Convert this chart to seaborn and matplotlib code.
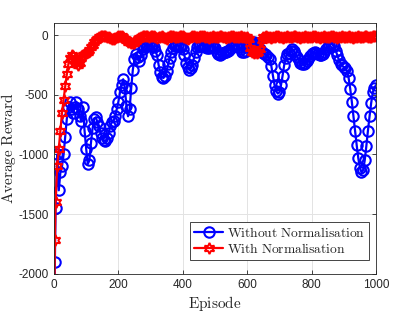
import numpy as np
import pandas as pd
import matplotlib
matplotlib.use('Agg')
import matplotlib.pyplot as plt
import seaborn as sns

episodes = [1, 3] + list(range(5, 1001, 5))

# average reward, without normalisation (blue)
reward_without = [
    -2300, -1900,
    -1450, -1000, -1300, -1150, -1100, -1000, -850, -700, -600, -560,
    -620, -650, -600, -560, -620, -680, -720, -600, -800, -950,
    -1080, -1050, -900, -780, -700, -690, -730, -760, -820, -860,
    -880, -890, -860, -820, -760, -730, -720, -680, -620, -560,
    -480, -420, -370, -440, -590, -680, -620, -440, -290, -200,
    -160, -180, -220, -170, -120, -100, -90, -80, -85, -95,
    -90, -100, -130, -170, -250, -310, -350, -360, -340, -300,
    -240, -190, -140, -110, -90, -80, -85, -90, -100, -120,
    -170, -230, -270, -290, -280, -250, -190, -140, -100, -90,
    -80, -80, -90, -100, -110, -105, -95, -90, -95, -110,
    -140, -160, -165, -160, -150, -145, -140, -135, -125, -110,
    -95, -85, -80, -85, -100, -120, -140, -145, -130, -100,
    -80, -70, -65, -60, -70, -85, -100, -120, -140, -150,
    -160, -170, -180, -200, -260, -340, -420, -470, -490, -480,
    -420, -340, -250, -190, -160, -150, -130, -120, -135, -160,
    -180, -210, -230, -240, -245, -235, -220, -200, -175, -160,
    -150, -145, -150, -160, -170, -165, -155, -140, -120, -100,
    -85, -75, -80, -95, -130, -170, -210, -240, -255, -270,
    -280, -300, -360, -450, -560, -680, -800, -920, -1030, -1110,
    -1150, -1130, -1050, -930, -800, -680, -570, -480, -440, -420,
]

# average reward, with normalisation (red)
reward_with = [
    -2300, -1720,
    -1400, -1100, -950, -800, -650, -540, -430, -330, -240, -190,
    -170, -175, -200, -230, -250, -230, -190, -165, -155, -150,
    -140, -125, -100, -80, -60, -45, -30, -20, -10, -5,
    -5, -10, -15, -20, -25, -30, -30, -25, -15, -10,
    -5, -10, -20, -30, -45, -55, -60, -65, -70, -65,
    -50, -35, -25, -15, -10, -5, -5, -10, -15, -10,
    -5, -10, -20, -25, -20, -15, -10, -15, -25, -30,
    -20, -10, -5, -10, -15, -20, -15, -10, -5, -10,
    -15, -25, -30, -25, -15, -10, -10, -15, -20, -15,
    -10, -5, -10, -15, -20, -25, -20, -15, -10, -15,
    -20, -15, -10, -10, -15, -20, -25, -20, -15, -10,
    -10, -15, -20, -20, -15, -10, -15, -20, -25, -20,
    -30, -110, -140, -150, -145, -150, -140, -120, -40, -20,
    -15, -10, -15, -20, -25, -20, -15, -10, -10, -15,
    -20, -25, -20, -15, -10, -15, -20, -15, -10, -10,
    -15, -20, -25, -20, -15, -10, -15, -20, -20, -15,
    -10, -10, -15, -20, -25, -20, -15, -10, -15, -20,
    -15, -10, -10, -15, -20, -25, -20, -15, -10, -15,
    -20, -15, -10, -15, -20, -25, -20, -15, -10, -15,
    -20, -15, -10, -10, -15, -20, -15, -10, -10, -10,
]

x_ticks = [0, 200, 400, 600, 800, 1000]
y_ticks = [-2000, -1500, -1000, -500, 0]

sns.set_style('ticks')
plt.rcParams['font.family'] = ['Liberation Sans', 'DejaVu Sans']
plt.rcParams['mathtext.fontset'] = 'cm'

df = pd.DataFrame({'episode': episodes,
                   'without': reward_without,
                   'with': reward_with})

fig = plt.figure(figsize=(4.15, 3.12), dpi=100)
ax = fig.add_axes([0.130, 0.122, 0.776, 0.804])

axis_col = '#262626'

sns.lineplot(data=df, x='episode', y='without', ax=ax, sort=False,
             estimator=None, color='#0000ff', lw=1.6, marker='o',
             markersize=7.5, markerfacecolor='none', markeredgecolor='#0000ff',
             markeredgewidth=1.5, label=r'$\mathrm{Without\ Normalisation}$')
sns.lineplot(data=df, x='episode', y='with', ax=ax, sort=False,
             estimator=None, color='#ff0000', lw=1.6, marker=(6, 1, 0),
             markersize=8, markerfacecolor='none', markeredgecolor='#ff0000',
             markeredgewidth=1.4, label=r'$\mathrm{With\ Normalisation}$')

ax.set_xlim(0, 1000)
ax.set_ylim(-2000, 100)
ax.set_xticks(x_ticks)
ax.set_yticks(y_ticks)
ax.set_xticklabels([str(t) for t in x_ticks])
ax.set_yticklabels([str(t) for t in y_ticks])
ax.grid(True, color='#e3e3e3', lw=0.7)
ax.set_axisbelow(True)

for side in ['left', 'right', 'top', 'bottom']:
    ax.spines[side].set_visible(True)
    ax.spines[side].set_color(axis_col)
    ax.spines[side].set_linewidth(0.6)
ax.tick_params(direction='in', length=3, width=0.6, colors=axis_col,
               labelsize=8.5, top=True, right=True, pad=4)

ax.set_xlabel(r'$\mathrm{Episode}$', fontsize=11, labelpad=2)
ax.set_ylabel(r'$\mathrm{Average\ Reward}$', fontsize=11, labelpad=0)

leg = ax.legend(loc='lower right', bbox_to_anchor=(0.978, 0.056),
                fontsize=9.7, frameon=True, fancybox=False,
                framealpha=1, edgecolor=axis_col, borderpad=0.3,
                labelspacing=0.15, handlelength=2.1, handletextpad=0.3,
                borderaxespad=0)
leg.get_frame().set_linewidth(0.6)

fig.savefig('out.png', dpi=100)
